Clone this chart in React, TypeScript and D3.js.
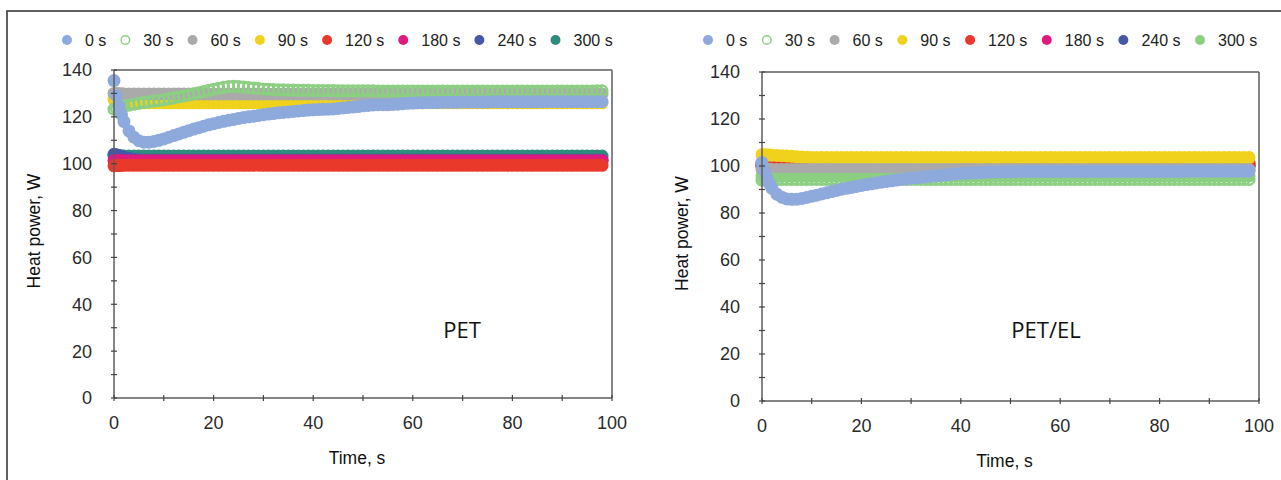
import React, { useEffect, useRef } from 'react';
import * as d3 from 'd3';

// time stamps (s)
const TIMES = [0, 0.5, 1, 1.5, 2, 3, 4, 5, 6, 7,
  8, 9, 10, 11, 12, 13, 14, 15, 16, 17,
  18, 19, 20, 21, 22, 23, 24, 25, 26, 27,
  28, 29, 30, 31, 32, 33, 34, 35, 36, 37,
  38, 39, 40, 41, 42, 43, 44, 45, 46, 47,
  48, 49, 50, 51, 52, 53, 54, 55, 56, 57,
  58, 59, 60, 61, 62, 63, 64, 65, 66, 67,
  68, 69, 70, 71, 72, 73, 74, 75, 76, 77,
  78, 79, 80, 81, 82, 83, 84, 85, 86, 87,
  88, 89, 90, 91, 92, 93, 94, 95, 96, 97,
  98];

const SERIES_LABELS = ['0 s', '30 s', '60 s', '90 s', '120 s', '180 s', '240 s', '300 s'];
const OPEN_SERIES = [false, true, false, false, false, false, false, false];
const COLORS_PET = ['#8eaadc', '#8ccf82', '#aaaaaa', '#f0d21c', '#e8392b', '#df1a7f', '#4558a5', '#2f8b7d'];
const COLORS_EL = ['#8eaadc', '#8ccf82', '#aaaaaa', '#f0d21c', '#e8392b', '#df1a7f', '#4558a5', '#8ccf80'];

const Y_TICKS = [0, 20, 40, 60, 80, 100, 120, 140];
const Y_MINOR = [10, 30, 50, 70, 90, 110, 130];
const X_TICKS = [0, 20, 40, 60, 80, 100];
const X_MINOR = [10, 30, 50, 70, 90];

// ---------- PET ----------
const PET_0S = [135.5, 129, 124.5, 121, 118, 114, 111.3, 109.8, 109.2, 109.2,
  109.5, 110, 110.6, 111.3, 112, 112.7, 113.4, 114.1, 114.8, 115.4,
  116, 116.6, 117.1, 117.6, 118.1, 118.5, 118.9, 119.3, 119.7, 120,
  120.3, 120.6, 120.9, 121.2, 121.4, 121.7, 121.9, 122.1, 122.3, 122.5,
  122.7, 122.9, 123, 123.1, 123.2, 123.3, 123.4, 123.6, 123.8, 124,
  124.2, 124.4, 124.7, 124.9, 125.1, 125.2, 125.2, 125.2, 125.3, 125.4,
  125.6, 125.8, 125.9, 126, 126, 126.1, 126.1, 126.1, 126.2, 126.2,
  126.2, 126.2, 126.3, 126.3, 126.3, 126.3, 126.3, 126.3, 126.4, 126.4,
  126.4, 126.4, 126.4, 126.4, 126.4, 126.4, 126.4, 126.4, 126.4, 126.5,
  126.5, 126.5, 126.5, 126.5, 126.5, 126.5, 126.5, 126.5, 126.5, 126.5,
  126.5];
const PET_30S = [123.3, 123.6, 124, 124.3, 124.6, 125, 125.4, 125.8, 126.1, 126.4,
  126.7, 127, 127.3, 127.7, 128.1, 128.5, 128.9, 129.3, 129.8, 130.3,
  130.8, 131.3, 131.8, 132.2, 132.6, 132.9, 133, 132.9, 132.7, 132.5,
  132.3, 132.1, 131.9, 131.8, 131.7, 131.6, 131.5, 131.4, 131.4, 131.3,
  131.3, 131.3, 131.2, 131.2, 131.2, 131.2, 131.2, 131.1, 131.1, 131.1,
  131.1, 131.1, 131.1, 131.1, 131.1, 131, 131, 131, 131, 131,
  131, 131, 131, 131, 131, 131, 131, 131, 131, 131,
  131, 131, 131, 131, 131, 131, 131, 131, 131, 131,
  131, 131, 131, 131, 131, 131, 131, 131, 131, 131,
  131, 131, 131, 131, 131, 131, 131, 131, 131, 131.1,
  131.1];
const PET_60S = [130, 130, 129.9, 129.9, 129.8, 129.8, 129.8, 129.8, 129.8, 129.8,
  129.8, 129.8, 129.8, 129.8, 129.8, 129.8, 129.8, 129.8, 129.8, 129.8,
  129.8, 129.8, 129.8, 129.8, 129.8, 129.8, 129.8, 129.8, 129.8, 129.8,
  129.8, 129.8, 129.8, 129.8, 129.8, 129.8, 129.8, 129.8, 129.8, 129.8,
  129.8, 129.8, 129.8, 129.8, 129.8, 129.8, 129.8, 129.8, 129.8, 129.8,
  129.8, 129.8, 129.8, 129.8, 129.8, 129.8, 129.8, 129.8, 129.8, 129.8,
  129.8, 129.8, 129.8, 129.8, 129.8, 129.8, 129.8, 129.8, 129.8, 129.8,
  129.8, 129.8, 129.8, 129.8, 129.8, 129.8, 129.8, 129.8, 129.8, 129.8,
  129.8, 129.8, 129.8, 129.8, 129.8, 129.8, 129.8, 129.8, 129.8, 129.8,
  129.8, 129.8, 129.8, 129.8, 129.8, 129.8, 129.8, 129.8, 129.8, 129.8,
  129.8];
const PET_90S = [127.5, 127.2, 126.9, 126.6, 126.4, 126.2, 126.1, 126, 126, 126,
  126, 126, 126, 126, 126, 126, 126, 126, 126, 126,
  126, 126, 126, 126, 126, 126, 126, 126, 126, 126,
  126, 126, 126, 126, 126, 126, 126, 126, 126, 126,
  126, 126, 126, 126, 126, 126, 126, 126, 126, 126,
  126, 126, 126, 126, 126, 126, 126, 126, 126, 126,
  126, 126, 126, 126, 126, 126, 126, 126, 126, 126,
  126, 126, 126, 126, 126, 126, 126, 126, 126, 126,
  126, 126, 126, 126, 126, 126, 126, 126, 126, 126,
  126, 126, 126, 126, 126, 126, 126, 126, 126, 126,
  126];
const PET_120S = [99.1, 99.2, 99.2, 99.3, 99.3, 99.3, 99.3, 99.3, 99.3, 99.3,
  99.3, 99.3, 99.3, 99.3, 99.3, 99.3, 99.3, 99.3, 99.3, 99.3,
  99.3, 99.3, 99.3, 99.3, 99.3, 99.3, 99.3, 99.3, 99.3, 99.3,
  99.3, 99.3, 99.3, 99.3, 99.3, 99.3, 99.3, 99.3, 99.3, 99.3,
  99.3, 99.3, 99.3, 99.3, 99.3, 99.3, 99.3, 99.3, 99.3, 99.3,
  99.3, 99.3, 99.3, 99.3, 99.3, 99.3, 99.3, 99.3, 99.3, 99.3,
  99.3, 99.3, 99.3, 99.3, 99.3, 99.3, 99.3, 99.3, 99.3, 99.3,
  99.3, 99.3, 99.3, 99.3, 99.3, 99.3, 99.3, 99.3, 99.3, 99.3,
  99.3, 99.3, 99.3, 99.3, 99.3, 99.3, 99.3, 99.3, 99.3, 99.3,
  99.3, 99.3, 99.3, 99.3, 99.3, 99.3, 99.3, 99.3, 99.3, 99.3,
  99.3];
const PET_180S = [101.3, 101.3, 101.3, 101.3, 101.3, 101.3, 101.3, 101.3, 101.3, 101.3,
  101.3, 101.3, 101.3, 101.3, 101.3, 101.3, 101.3, 101.3, 101.3, 101.3,
  101.3, 101.3, 101.3, 101.3, 101.3, 101.3, 101.3, 101.3, 101.3, 101.3,
  101.3, 101.3, 101.3, 101.3, 101.3, 101.3, 101.3, 101.3, 101.3, 101.3,
  101.3, 101.3, 101.3, 101.3, 101.3, 101.3, 101.3, 101.3, 101.3, 101.3,
  101.3, 101.3, 101.3, 101.3, 101.3, 101.3, 101.3, 101.3, 101.3, 101.3,
  101.3, 101.3, 101.3, 101.3, 101.3, 101.3, 101.3, 101.3, 101.3, 101.3,
  101.3, 101.3, 101.3, 101.3, 101.3, 101.3, 101.3, 101.3, 101.3, 101.3,
  101.3, 101.3, 101.3, 101.3, 101.3, 101.3, 101.3, 101.3, 101.3, 101.3,
  101.3, 101.3, 101.3, 101.3, 101.3, 101.3, 101.3, 101.3, 101.3, 101.3,
  101.3];
const PET_240S = [104, 103.8, 103.5, 103.2, 102.8, 102.3, 101.9, 101.6, 101.5, 101.5,
  101.5, 101.5, 101.5, 101.5, 101.5, 101.5, 101.5, 101.5, 101.5, 101.5,
  101.5, 101.5, 101.5, 101.5, 101.5, 101.5, 101.5, 101.5, 101.5, 101.5,
  101.5, 101.5, 101.5, 101.5, 101.5, 101.5, 101.5, 101.5, 101.5, 101.5,
  101.5, 101.5, 101.5, 101.5, 101.5, 101.5, 101.5, 101.5, 101.5, 101.5,
  101.5, 101.5, 101.5, 101.5, 101.5, 101.5, 101.5, 101.5, 101.5, 101.5,
  101.5, 101.5, 101.5, 101.5, 101.5, 101.5, 101.5, 101.5, 101.5, 101.5,
  101.5, 101.5, 101.5, 101.5, 101.5, 101.5, 101.5, 101.5, 101.5, 101.5,
  101.5, 101.5, 101.5, 101.5, 101.5, 101.5, 101.5, 101.5, 101.5, 101.5,
  101.5, 101.5, 101.5, 101.5, 101.5, 101.5, 101.5, 101.5, 101.5, 101.5,
  101.5];
const PET_300S = [103.3, 103.3, 103.3, 103.3, 103.3, 103.3, 103.3, 103.3, 103.3, 103.3,
  103.3, 103.3, 103.3, 103.3, 103.3, 103.3, 103.3, 103.3, 103.3, 103.3,
  103.3, 103.3, 103.3, 103.3, 103.3, 103.3, 103.3, 103.3, 103.3, 103.3,
  103.3, 103.3, 103.3, 103.3, 103.3, 103.3, 103.3, 103.3, 103.3, 103.3,
  103.3, 103.3, 103.3, 103.3, 103.3, 103.3, 103.3, 103.3, 103.3, 103.3,
  103.3, 103.3, 103.3, 103.3, 103.3, 103.3, 103.3, 103.3, 103.3, 103.3,
  103.3, 103.3, 103.3, 103.3, 103.3, 103.3, 103.3, 103.3, 103.3, 103.3,
  103.3, 103.3, 103.3, 103.3, 103.3, 103.3, 103.3, 103.3, 103.3, 103.3,
  103.3, 103.3, 103.3, 103.3, 103.3, 103.3, 103.3, 103.3, 103.3, 103.3,
  103.3, 103.3, 103.3, 103.3, 103.3, 103.3, 103.3, 103.3, 103.3, 103.3,
  103.3];

// ---------- PET/EL ----------
const EL_0S = [101.5, 98, 95, 92.5, 90.5, 88, 86.7, 86, 85.8, 85.9,
  86.2, 86.6, 87.1, 87.6, 88.1, 88.6, 89.1, 89.6, 90.1, 90.5,
  90.9, 91.3, 91.7, 92.1, 92.4, 92.8, 93.1, 93.4, 93.7, 94,
  94.3, 94.5, 94.8, 95, 95.2, 95.4, 95.6, 95.8, 96, 96.2,
  96.4, 96.6, 96.8, 96.9, 97, 97.1, 97.2, 97.3, 97.4, 97.5,
  97.5, 97.6, 97.6, 97.6, 97.7, 97.7, 97.7, 97.7, 97.7, 97.7,
  97.7, 97.7, 97.7, 97.7, 97.7, 97.7, 97.7, 97.7, 97.7, 97.7,
  97.7, 97.7, 97.7, 97.7, 97.7, 97.7, 97.7, 97.7, 97.7, 97.7,
  97.7, 97.7, 97.7, 97.7, 97.7, 97.7, 97.7, 97.7, 97.8, 97.8,
  97.8, 97.8, 97.8, 97.8, 97.8, 97.8, 97.8, 97.8, 97.8, 97.8,
  97.8];
const EL_30S = [94, 94.1, 94.2, 94.3, 94.3, 94.3, 94.3, 94.3, 94.3, 94.3,
  94.3, 94.3, 94.3, 94.3, 94.3, 94.3, 94.3, 94.3, 94.3, 94.3,
  94.3, 94.3, 94.3, 94.3, 94.3, 94.3, 94.3, 94.3, 94.3, 94.3,
  94.3, 94.3, 94.3, 94.3, 94.3, 94.3, 94.3, 94.3, 94.3, 94.3,
  94.3, 94.3, 94.3, 94.3, 94.3, 94.3, 94.3, 94.3, 94.3, 94.3,
  94.3, 94.3, 94.3, 94.3, 94.3, 94.3, 94.3, 94.3, 94.3, 94.3,
  94.3, 94.3, 94.3, 94.3, 94.3, 94.3, 94.3, 94.3, 94.3, 94.3,
  94.3, 94.3, 94.3, 94.3, 94.3, 94.3, 94.3, 94.3, 94.3, 94.3,
  94.3, 94.3, 94.3, 94.3, 94.3, 94.3, 94.3, 94.3, 94.3, 94.3,
  94.3, 94.3, 94.3, 94.3, 94.3, 94.3, 94.3, 94.3, 94.3, 94.3,
  94.3];
const EL_60S = [98.5, 98.5, 98.5, 98.5, 98.5, 98.5, 98.5, 98.5, 98.5, 98.5,
  98.5, 98.5, 98.5, 98.5, 98.5, 98.5, 98.5, 98.5, 98.5, 98.5,
  98.5, 98.5, 98.5, 98.5, 98.5, 98.5, 98.5, 98.5, 98.5, 98.5,
  98.5, 98.5, 98.5, 98.5, 98.5, 98.5, 98.5, 98.5, 98.5, 98.5,
  98.5, 98.5, 98.5, 98.5, 98.5, 98.5, 98.5, 98.5, 98.5, 98.5,
  98.5, 98.5, 98.5, 98.5, 98.5, 98.5, 98.5, 98.5, 98.5, 98.5,
  98.5, 98.5, 98.5, 98.5, 98.5, 98.5, 98.5, 98.5, 98.5, 98.5,
  98.5, 98.5, 98.5, 98.5, 98.5, 98.5, 98.5, 98.5, 98.5, 98.5,
  98.5, 98.5, 98.5, 98.5, 98.5, 98.5, 98.5, 98.5, 98.5, 98.5,
  98.5, 98.5, 98.5, 98.5, 98.5, 98.5, 98.5, 98.5, 98.5, 98.5,
  98.5];
const EL_90S = [104.8, 104.8, 104.7, 104.7, 104.6, 104.5, 104.4, 104.3, 104.1, 103.9,
  103.8, 103.7, 103.6, 103.6, 103.6, 103.6, 103.6, 103.6, 103.6, 103.6,
  103.6, 103.6, 103.6, 103.6, 103.6, 103.6, 103.6, 103.6, 103.6, 103.6,
  103.6, 103.6, 103.6, 103.6, 103.6, 103.6, 103.6, 103.6, 103.6, 103.6,
  103.6, 103.6, 103.6, 103.6, 103.6, 103.6, 103.6, 103.6, 103.6, 103.6,
  103.6, 103.6, 103.6, 103.6, 103.6, 103.6, 103.6, 103.6, 103.6, 103.6,
  103.6, 103.6, 103.6, 103.6, 103.6, 103.6, 103.6, 103.6, 103.6, 103.6,
  103.6, 103.6, 103.6, 103.6, 103.6, 103.6, 103.6, 103.6, 103.6, 103.6,
  103.6, 103.6, 103.6, 103.6, 103.6, 103.6, 103.6, 103.6, 103.6, 103.6,
  103.6, 103.6, 103.6, 103.6, 103.6, 103.6, 103.6, 103.6, 103.6, 103.6,
  103.6];
const EL_120S = [101.2, 101.2, 101.2, 101.2, 101.2, 101.2, 101.2, 101.2, 101.2, 101.2,
  101.2, 101.2, 101.2, 101.2, 101.2, 101.2, 101.2, 101.2, 101.2, 101.2,
  101.2, 101.2, 101.2, 101.2, 101.2, 101.2, 101.2, 101.2, 101.2, 101.2,
  101.2, 101.2, 101.2, 101.2, 101.2, 101.2, 101.2, 101.2, 101.2, 101.2,
  101.2, 101.2, 101.2, 101.2, 101.2, 101.2, 101.2, 101.2, 101.2, 101.2,
  101.2, 101.2, 101.2, 101.2, 101.2, 101.2, 101.2, 101.2, 101.2, 101.2,
  101.2, 101.2, 101.2, 101.2, 101.2, 101.2, 101.2, 101.2, 101.2, 101.2,
  101.2, 101.2, 101.2, 101.2, 101.2, 101.2, 101.2, 101.2, 101.2, 101.2,
  101.2, 101.2, 101.2, 101.2, 101.2, 101.2, 101.2, 101.2, 101.2, 101.2,
  101.2, 101.2, 101.2, 101.2, 101.2, 101.2, 101.2, 101.2, 101.2, 101.2,
  101.2];
const EL_180S = [100.3, 100.3, 100.3, 100.3, 100.3, 100.3, 100.3, 100.3, 100.3, 100.3,
  100.3, 100.3, 100.3, 100.3, 100.3, 100.3, 100.3, 100.3, 100.3, 100.3,
  100.3, 100.3, 100.3, 100.3, 100.3, 100.3, 100.3, 100.3, 100.3, 100.3,
  100.3, 100.3, 100.3, 100.3, 100.3, 100.3, 100.3, 100.3, 100.3, 100.3,
  100.3, 100.3, 100.3, 100.3, 100.3, 100.3, 100.3, 100.3, 100.3, 100.3,
  100.3, 100.3, 100.3, 100.3, 100.3, 100.3, 100.3, 100.3, 100.3, 100.3,
  100.3, 100.3, 100.3, 100.3, 100.3, 100.3, 100.3, 100.3, 100.3, 100.3,
  100.3, 100.3, 100.3, 100.3, 100.3, 100.3, 100.3, 100.3, 100.3, 100.3,
  100.3, 100.3, 100.3, 100.3, 100.3, 100.3, 100.3, 100.3, 100.3, 100.3,
  100.3, 100.3, 100.3, 100.3, 100.3, 100.3, 100.3, 100.3, 100.3, 100.3,
  100.3];
const EL_240S = [99.9, 99.9, 99.9, 99.9, 99.9, 99.9, 99.9, 99.9, 99.9, 99.9,
  99.9, 99.9, 99.9, 99.9, 99.9, 99.9, 99.9, 99.9, 99.9, 99.9,
  99.9, 99.9, 99.9, 99.9, 99.9, 99.9, 99.9, 99.9, 99.9, 99.9,
  99.9, 99.9, 99.9, 99.9, 99.9, 99.9, 99.9, 99.9, 99.9, 99.9,
  99.9, 99.9, 99.9, 99.9, 99.9, 99.9, 99.9, 99.9, 99.9, 99.9,
  99.9, 99.9, 99.9, 99.9, 99.9, 99.9, 99.9, 99.9, 99.9, 99.9,
  99.9, 99.9, 99.9, 99.9, 99.9, 99.9, 99.9, 99.9, 99.9, 99.9,
  99.9, 99.9, 99.9, 99.9, 99.9, 99.9, 99.9, 99.9, 99.9, 99.9,
  99.9, 99.9, 99.9, 99.9, 99.9, 99.9, 99.9, 99.9, 99.9, 99.9,
  99.9, 99.9, 99.9, 99.9, 99.9, 99.9, 99.9, 99.9, 99.9, 99.9,
  99.9];
const EL_300S = [95.8, 95.8, 95.8, 95.8, 95.8, 95.8, 95.8, 95.8, 95.8, 95.8,
  95.8, 95.8, 95.8, 95.8, 95.8, 95.8, 95.8, 95.8, 95.8, 95.8,
  95.8, 95.8, 95.8, 95.8, 95.8, 95.8, 95.8, 95.8, 95.8, 95.8,
  95.8, 95.8, 95.8, 95.8, 95.8, 95.8, 95.8, 95.8, 95.8, 95.8,
  95.8, 95.8, 95.8, 95.8, 95.8, 95.8, 95.8, 95.8, 95.8, 95.8,
  95.8, 95.8, 95.8, 95.8, 95.8, 95.8, 95.8, 95.8, 95.8, 95.8,
  95.8, 95.8, 95.8, 95.8, 95.8, 95.8, 95.8, 95.8, 95.8, 95.8,
  95.8, 95.8, 95.8, 95.8, 95.8, 95.8, 95.8, 95.8, 95.8, 95.8,
  95.8, 95.8, 95.8, 95.8, 95.8, 95.8, 95.8, 95.8, 95.8, 95.8,
  95.8, 95.8, 95.8, 95.8, 95.8, 95.8, 95.8, 95.8, 95.8, 95.8,
  95.8];

const PET_SERIES = [PET_0S, PET_30S, PET_60S, PET_90S, PET_120S, PET_180S, PET_240S, PET_300S];
const EL_SERIES = [EL_0S, EL_30S, EL_60S, EL_90S, EL_120S, EL_180S, EL_240S, EL_300S];

const FONT = "'Liberation Sans', Arial, Helvetica, sans-serif";

interface PanelCfg {
  left: number; right: number; top: number; bottom: number;
  series: number[][]; colors: string[]; label: string; labelX: number; labelY: number;
  legendX: number; legendGap: number;
}

const PANELS: PanelCfg[] = [
  { left: 114, right: 612, top: 70, bottom: 398, series: PET_SERIES, colors: COLORS_PET, label: 'PET', labelX: 462, labelY: 330, legendX: 67, legendGap: 19 },
  { left: 762, right: 1259, top: 72, bottom: 401, series: EL_SERIES, colors: COLORS_EL, label: 'PET/EL', labelX: 1046, labelY: 330, legendX: 708, legendGap: 19.5 },
];

function drawPanel(g: d3.Selection<SVGGElement, unknown, null, undefined>, cfg: PanelCfg) {
  const x = d3.scaleLinear().domain([0, 100]).range([cfg.left, cfg.right]);
  const y = d3.scaleLinear().domain([0, 140]).range([cfg.bottom, cfg.top]);
  const axisColor = '#5c5c5c';

  // series (last drawn on top: reversed order)
  const R = 6.5;
  for (let s = cfg.series.length - 1; s >= 0; s--) {
    const vals = cfg.series[s];
    const pts = TIMES.map((t, i) => [t, vals[i]] as [number, number]);
    const open = OPEN_SERIES[s];
    g.append('g').selectAll('circle').data(pts).join('circle')
      .attr('cx', d => x(d[0]))
      .attr('cy', d => y(d[1]))
      .attr('r', open ? R - 1.2 : R)
      .attr('fill', open ? 'none' : cfg.colors[s])
      .attr('stroke', open ? cfg.colors[s] : 'none')
      .attr('stroke-width', open ? 2.5 : 0);
  }

  // frame
  const frame = [
    [x(0), y(140), x(100), y(140)],
    [x(100), y(0), x(100), y(140)],
    [x(0), y(0), x(0), y(140)],
    [x(0), y(0), x(100), y(0)],
  ];
  g.append('g').selectAll('line').data(frame).join('line')
    .attr('x1', d => d[0]).attr('y1', d => d[1]).attr('x2', d => d[2]).attr('y2', d => d[3])
    .attr('stroke', axisColor).attr('stroke-width', 1.5);

  // ticks
  const yt = [...Y_TICKS, ...Y_MINOR];
  g.append('g').selectAll('line').data(yt).join('line')
    .attr('x1', x(0) - 3).attr('x2', x(0) + 3)
    .attr('y1', d => y(d)).attr('y2', d => y(d))
    .attr('stroke', '#444').attr('stroke-width', 1.2);
  const xt = [...X_TICKS, ...X_MINOR];
  g.append('g').selectAll('line').data(xt).join('line')
    .attr('x1', d => x(d)).attr('x2', d => x(d))
    .attr('y1', y(0) - 3).attr('y2', y(0) + 3)
    .attr('stroke', '#444').attr('stroke-width', 1.2);

  // tick labels
  g.append('g').selectAll('text').data(Y_TICKS).join('text')
    .attr('x', x(0) - 22).attr('y', d => y(d)).attr('dy', '0.36em')
    .attr('text-anchor', 'end').attr('font-size', 18).attr('font-family', FONT).attr('fill', '#2a2a2a')
    .text(d => String(d));
  g.append('g').selectAll('text').data(X_TICKS).join('text')
    .attr('x', d => x(d)).attr('y', y(0) + 25).attr('dy', '0.36em')
    .attr('text-anchor', 'middle').attr('font-size', 18).attr('font-family', FONT).attr('fill', '#2a2a2a')
    .text(d => String(d));

  // axis titles
  const cy = (cfg.top + cfg.bottom) / 2 - 3;
  g.append('text')
    .attr('transform', `translate(${cfg.left - 74},${cy}) rotate(-90)`)
    .attr('text-anchor', 'middle').attr('font-size', 17.5).attr('font-family', FONT).attr('fill', '#111')
    .text('Heat power, W');
  g.append('text')
    .attr('x', (cfg.left + cfg.right) / 2 - 6).attr('y', cfg.bottom + 60).attr('dy', '0.36em')
    .attr('text-anchor', 'middle').attr('font-size', 17.5).attr('font-family', FONT).attr('fill', '#111')
    .text('Time, s');

  // panel label
  g.append('text')
    .attr('x', cfg.labelX).attr('y', cfg.labelY).attr('dy', '0.36em')
    .attr('text-anchor', 'middle').attr('font-size', 22).attr('font-family', "'Open Sans', 'Noto Sans', sans-serif").attr('fill', '#111')
    .text(cfg.label);

  // legend
  let lx = cfg.legendX;
  const ly = 40;
  SERIES_LABELS.forEach((lab, i) => {
    const open = OPEN_SERIES[i];
    g.append('circle').attr('cx', lx).attr('cy', ly).attr('r', open ? 4.3 : 5)
      .attr('fill', open ? 'none' : cfg.colors[i])
      .attr('stroke', open ? cfg.colors[i] : 'none').attr('stroke-width', 1.4);
    const t = g.append('text').attr('x', lx + 18).attr('y', ly).attr('dy', '0.36em')
      .attr('font-size', 16).attr('font-family', FONT).attr('fill', '#222').text(lab);
    const w = (t.node() as SVGTextElement).getComputedTextLength();
    lx = lx + 18 + w + cfg.legendGap;
  });
}

export default function App() {
  const ref = useRef<SVGSVGElement>(null);
  useEffect(() => {
    const svg = d3.select(ref.current);
    svg.selectAll('*').remove();
    svg.append('rect').attr('x', 0).attr('y', 0).attr('width', 1281).attr('height', 480).attr('fill', '#fff');
    svg.append('rect').attr('x', 7).attr('y', 11).attr('width', 1300).attr('height', 500)
      .attr('fill', 'none').attr('stroke', '#3a3a3a').attr('stroke-width', 1.6);
    PANELS.forEach(cfg => {
      const g = svg.append('g') as d3.Selection<SVGGElement, unknown, null, undefined>;
      drawPanel(g, cfg);
    });
  }, []);
  return (
    <svg ref={ref} width={1281} height={480}
      style={{ position: 'absolute', left: 0, top: 0, display: 'block' }} />
  );
}
